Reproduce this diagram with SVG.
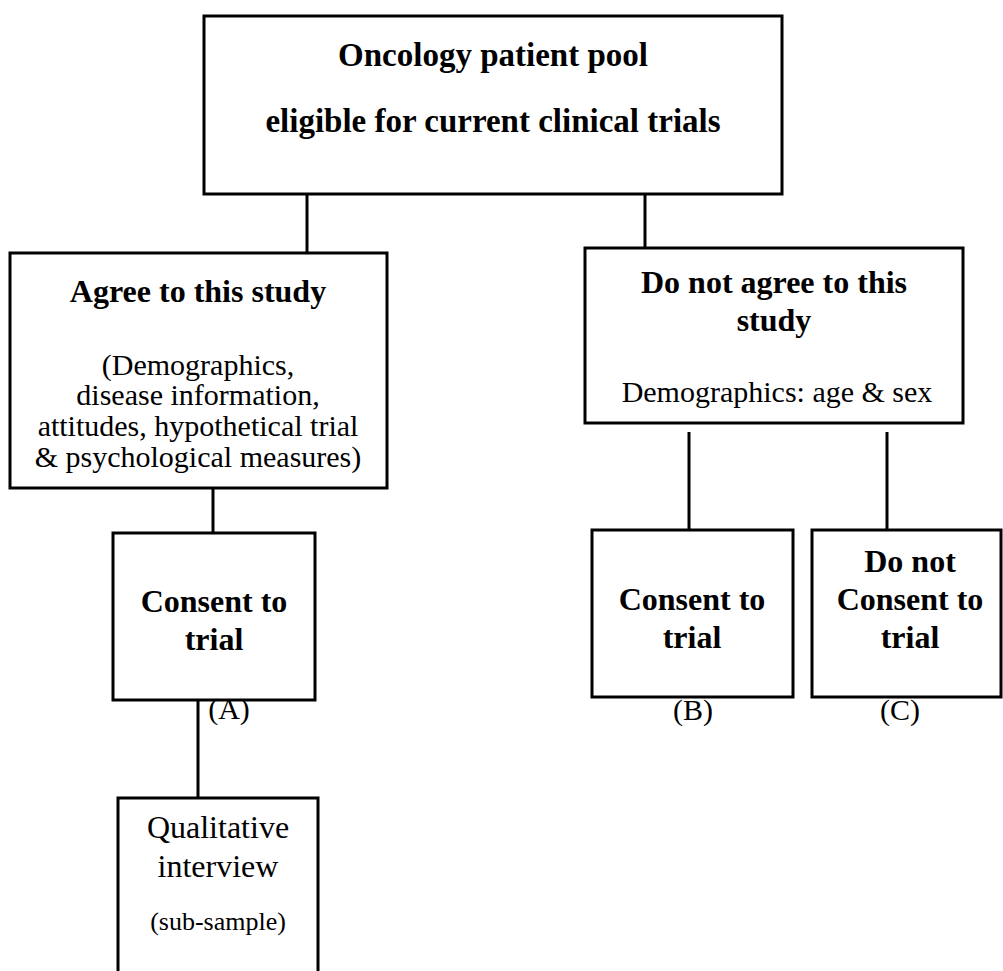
<svg xmlns="http://www.w3.org/2000/svg" width="1003" height="971" viewBox="0 0 1003 971">
<style>
.box{fill:#fff;stroke:#000;stroke-width:3}
.ln{stroke:#000;stroke-width:3;fill:none}
text{font-family:"Liberation Serif","Times New Roman",serif;fill:#000;text-anchor:middle}
.b{font-weight:bold;font-size:32px}
.r{font-size:30px}
.s{font-size:26px}
</style>
<rect width="1003" height="971" fill="#fff"/>
<g id="connectors">
<line class="ln" x1="307" y1="194" x2="307" y2="253"/>
<line class="ln" x1="645" y1="194" x2="645" y2="248"/>
<line class="ln" x1="213" y1="488" x2="213" y2="533"/>
<line class="ln" x1="198" y1="700" x2="198" y2="798"/>
<line class="ln" x1="689" y1="432" x2="689" y2="530"/>
<line class="ln" x1="887" y1="432" x2="887" y2="530"/>
</g>
<g id="pool">
<rect class="box" x="204" y="16" width="578" height="178"/>
<text class="b" x="493" y="66" style="font-size:33px">Oncology patient pool</text>
<text class="b" x="493" y="132" style="font-size:33px">eligible for current clinical trials</text>
</g>
<g id="agree">
<rect class="box" x="10" y="253" width="377" height="235"/>
<text class="b" x="198" y="302">Agree to this study</text>
<text class="r" x="198" y="375">(Demographics,</text>
<text class="r" x="198" y="405">disease information,</text>
<text class="r" x="198" y="436">attitudes, hypothetical trial</text>
<text class="r" x="198" y="467">&amp; psychological measures)</text>
</g>
<g id="notagree">
<rect class="box" x="585" y="248" width="378" height="175"/>
<text class="b" x="774" y="293">Do not agree to this</text>
<text class="b" x="774" y="331">study</text>
<text class="r" x="777" y="402">Demographics: age &amp; sex</text>
</g>
<g id="consentA">
<rect class="box" x="113" y="533" width="202" height="167"/>
<text class="b" x="214" y="612">Consent to</text>
<text class="b" x="214" y="650">trial</text>
<text class="r" x="229" y="719">(A)</text>
</g>
<g id="qualitative">
<rect class="box" x="118" y="798" width="200" height="190"/>
<text class="r" x="218" y="838" style="font-size:32px">Qualitative</text>
<text class="r" x="218" y="877" style="font-size:32px">interview</text>
<text class="s" x="218" y="930">(sub-sample)</text>
</g>
<g id="consentB">
<rect class="box" x="592" y="530" width="201" height="167"/>
<text class="b" x="692" y="610">Consent to</text>
<text class="b" x="692" y="648">trial</text>
<text class="r" x="693" y="720">(B)</text>
</g>
<g id="noconsentC">
<rect class="box" x="812" y="530" width="189" height="167"/>
<text class="b" x="910" y="572">Do not</text>
<text class="b" x="910" y="610">Consent to</text>
<text class="b" x="910" y="648">trial</text>
<text class="r" x="900" y="720">(C)</text>
</g>
</svg>
